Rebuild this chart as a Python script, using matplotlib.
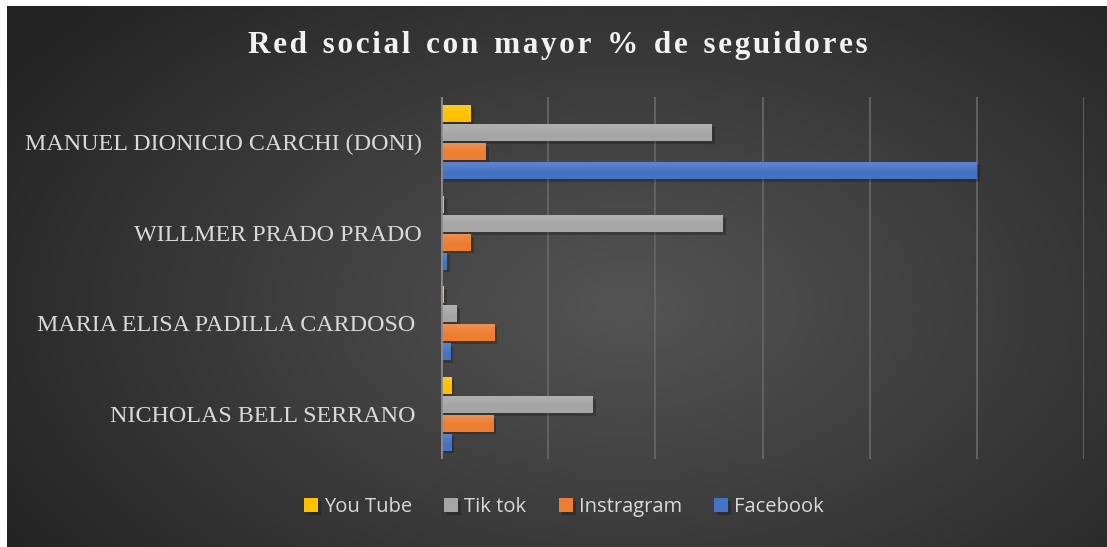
import numpy as np
import matplotlib
matplotlib.use("Agg")
import matplotlib.pyplot as plt
from matplotlib import patheffects as pe
from matplotlib.patches import Rectangle

categories = ["MANUEL DIONICIO CARCHI (DONI)", "WILLMER PRADO PRADO",
              "MARIA ELISA PADILLA CARDOSO ", "NICHOLAS BELL SERRANO "]
series = ["You Tube", "Tik tok", "Instragram", "Facebook"]
youtube = [2.8, 0.3, 0.3, 1.0]
tiktok = [25.3, 26.3, 1.5, 14.2]
instagram = [4.2, 2.8, 5.0, 4.9]
facebook = [50.0, 0.6, 0.9, 1.0]
colors = ["#FFC000", "#A5A5A5", "#ED7D31", "#4472C4"]

W, H = 1107, 547
fig = plt.figure(figsize=(W / 100, H / 100), dpi=100, facecolor="white")

# background with radial gradient
bg = fig.add_axes([7 / W, 0, 1 - 7 / W, 1 - 6 / H])
yy, xx = np.mgrid[0:541, 0:1100]
d = np.sqrt(((xx - 620) / 700.0) ** 2 + ((yy - 300) / 420.0) ** 2)
shade = np.clip(0.33 - 0.18 * d, 0.14, 0.33)
bg.imshow(np.dstack([shade, shade, shade]), aspect="auto", extent=[0, 1, 0, 1])
bg.set_axis_off()

ax = fig.add_axes([441 / W, 1 - 459 / H, (1084 - 441) / W, (459 - 97) / H])
ax.patch.set_alpha(0)
ax.set_xlim(0, 60)
ax.set_ylim(len(categories) - 0.5, -0.5)

step = 0.209
bh = 0.187
y = np.arange(len(categories))
shadow = [pe.SimplePatchShadow(offset=(2, -2), shadow_rgbFace="black", alpha=0.22), pe.Normal()]
for i, (vals, c, name) in enumerate(zip([youtube, tiktok, instagram, facebook], colors, series)):
    pos = y + (i - 1.5) * step
    bars = ax.barh(pos, vals, height=bh, color=c, label=name, zorder=3)
    for b in bars:
        b.set_path_effects(shadow)
        # soft top sheen
        for k in range(4):
            ax.add_patch(Rectangle((b.get_x(), b.get_y()), b.get_width(), b.get_height() * (0.15 + 0.12 * k),
                                   color="white", alpha=0.035, lw=0, zorder=4))

ax.set_xticks(np.arange(0, 61, 10))
ax.grid(axis="x", color="#656565", lw=1.3, zorder=0)
ax.tick_params(axis="x", length=0, labelbottom=False)
ax.tick_params(axis="y", length=0, pad=14)
ax.set_yticks(y)
ax.set_yticklabels(categories, family="Liberation Serif", fontsize=17.3, color="#d9d9d9")
for s in ax.spines.values():
    s.set_visible(False)
ax.axvline(0, color="#8a8a8a", lw=2, zorder=5)

title = "\u2002".join("\u200a".join(w) for w in "Red social con mayor % de seguidores".split())
fig.text(558 / W, 1 - 45 / H, title,
         family=["Liberation Serif", "DejaVu Sans"], fontsize=22.5, fontweight="bold",
         color="#f2f2f2", ha="center", va="center")

leg = fig.legend(loc="center", bbox_to_anchor=(564 / W, 1 - 507 / H), ncol=4, frameon=False,
                 prop={"family": "Open Sans", "size": 14.5}, labelcolor="#d9d9d9",
                 handlelength=0.7, handleheight=0.7, handletextpad=0.3, columnspacing=1.6)

fig.savefig("out.png", dpi=100, facecolor="white")
